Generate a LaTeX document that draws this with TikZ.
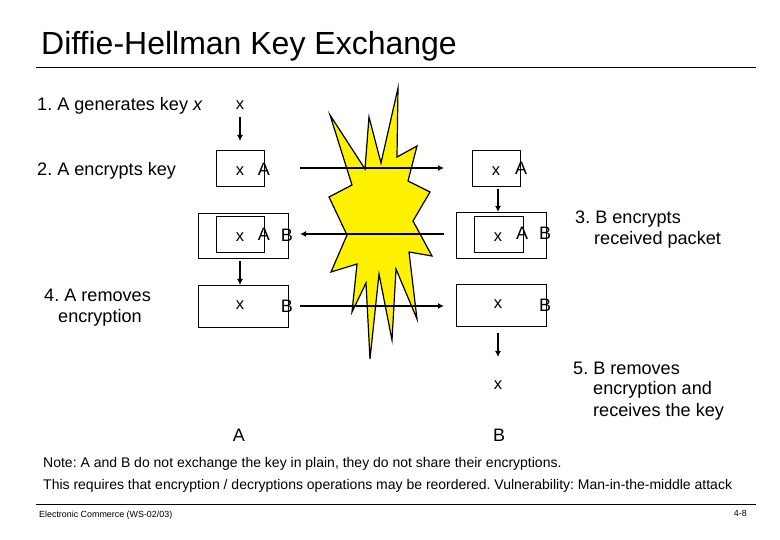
\documentclass[tikz,border=0pt]{standalone}
\usepackage{fontspec}
\setmainfont{Liberation Sans}
\usetikzlibrary{arrows.meta}
\frenchspacing
\tikzset{
  lbl/.style={inner sep=0pt,anchor=base west,font=\fontsize{18.1pt}{21pt}\selectfont},
  big/.style={inner sep=0pt,anchor=base,font=\fontsize{18pt}{22pt}\selectfont},
  sm/.style={inner sep=0pt,anchor=base,font=\fontsize{16.5pt}{20pt}\selectfont},
  note/.style={inner sep=0pt,anchor=base west,font=\fontsize{14pt}{17pt}\selectfont},
  foot/.style={inner sep=0pt,font=\fontsize{8.9pt}{11pt}\selectfont},
  box/.style={draw=black,line width=0.8pt,inner sep=0pt},
  arr/.style={line width=1.5pt,-{Latex[length=6pt,width=6pt]}},
  rule/.style={line width=0.8pt},
}
\begin{document}
\begin{tikzpicture}[x=1pt,y=-1pt]
\useasboundingbox (0,0) rectangle (780,540);
\fill[white] (0,0) rectangle (780,540);
\node[inner sep=0pt,anchor=base west,font=\fontsize{32pt}{38pt}\selectfont] (title) at (41,55) {Diffie-Hellman Key Exchange};
\coordinate (r1a) at (36,67); \coordinate (r1b) at (756,67);
\draw[rule] (r1a) -- (r1b);
\coordinate (r2a) at (36,504); \coordinate (r2b) at (756,504);
\draw[rule] (r2a) -- (r2b);
\draw[fill=yellow,line width=1.2pt,line join=miter] (330,115) -- (365,169) -- (369,117) -- (381,163) -- (398,88) -- (397,157) -- (417,146) -- (408,181) -- (430,192) -- (413,221) -- (432,256) -- (409,252) -- (417,319) -- (396,269) -- (392,340) -- (379,274) -- (370,359) -- (366,283) -- (352,312) -- (357,264) -- (331,272) -- (347,235) -- (329,197) -- (352,185) -- cycle;
\node[lbl] (s1) at (37,111) {1. A generates key \textit{x}};
\node[lbl] (s2) at (37,176) {2. A encrypts key};
\node[lbl] (s4a) at (44,302) {4. A removes};
\node[lbl] (s4b) at (58,323) {encryption};
\node[lbl] (s3a) at (575,224) {3. B encrypts};
\node[lbl] (s3b) at (594,245) {received packet};
\node[lbl] (s5a) at (573,374) {5. B removes};
\node[lbl] (s5b) at (593,395) {encryption and};
\node[lbl] (s5c) at (593,416) {receives the key};
\node[box,minimum width=48pt,minimum height=36pt] (b1) at (240,168) {};
\node[box,minimum width=90pt,minimum height=45pt] (b2) at (243,235.5) {};
\node[box,minimum width=48pt,minimum height=36pt] (b2i) at (240,234) {};
\node[box,minimum width=90pt,minimum height=42pt] (b3) at (243,306) {};
\node[box,minimum width=48pt,minimum height=36pt] (b4) at (496,168) {};
\node[box,minimum width=90pt,minimum height=46pt] (b5) at (501,235) {};
\node[box,minimum width=49pt,minimum height=36pt] (b5i) at (498.5,234) {};
\node[box,minimum width=90pt,minimum height=42pt] (b6) at (501,305) {};
\node[sm] (x0) at (240,109.5) {x};
\node[sm] (x1) at (240,175.5) {x};
\node[big] (a1) at (264,176) {A};
\node[sm] (x2) at (240,241.5) {x};
\node[big] (a2) at (264,241) {A};
\node[big] (b2l) at (287,241.5) {B};
\node[sm] (x3) at (240,310) {x};
\node[big] (b3l) at (287,313) {B};
\node[sm] (x4) at (496,175.5) {x};
\node[big] (a4) at (521,175) {A};
\node[sm] (x5) at (498,241.5) {x};
\node[big] (a5) at (522,240) {A};
\node[big] (b5l) at (545,240) {B};
\node[sm] (x6) at (498,309) {x};
\node[big] (b6l) at (545,312) {B};
\node[sm] (x7) at (498,389) {x};
\node[big] (al) at (239,441) {A};
\node[big] (bl) at (499,441) {B};
\coordinate (c0) at (240,117);
\coordinate (c0e) at (240,141);
\draw[arr] (c0) -- (c0e);
\coordinate (c1) at (240,261);
\coordinate (c1e) at (240,285);
\draw[arr] (c1) -- (c1e);
\coordinate (c2) at (498,189);
\coordinate (c2e) at (498,212);
\draw[arr] (c2) -- (c2e);
\coordinate (c3) at (498,333);
\coordinate (c3e) at (498,357);
\draw[arr] (c3) -- (c3e);
\coordinate (h1) at (300,168); \coordinate (h1e) at (444,168);
\draw[arr] (h1) -- (h1e);
\coordinate (h2) at (444,234); \coordinate (h2e) at (300,234);
\draw[arr] (h2) -- (h2e);
\coordinate (h3) at (300,306); \coordinate (h3e) at (444,306);
\draw[arr] (h3) -- (h3e);
\node[note] (n1) at (43,467) {Note: A and B do not exchange the key in plain, they do not share their encryptions.};
\node[note] (n2) at (43,489) {This requires that encryption / decryptions operations may be reordered. Vulnerability: Man-in-the-middle attack};
\node[foot,anchor=base west] (f1) at (39,517) {Electronic Commerce (WS-02/03)};
\node[foot,anchor=base east] (f2) at (747,516) {4-8};
\end{tikzpicture}
\end{document}
